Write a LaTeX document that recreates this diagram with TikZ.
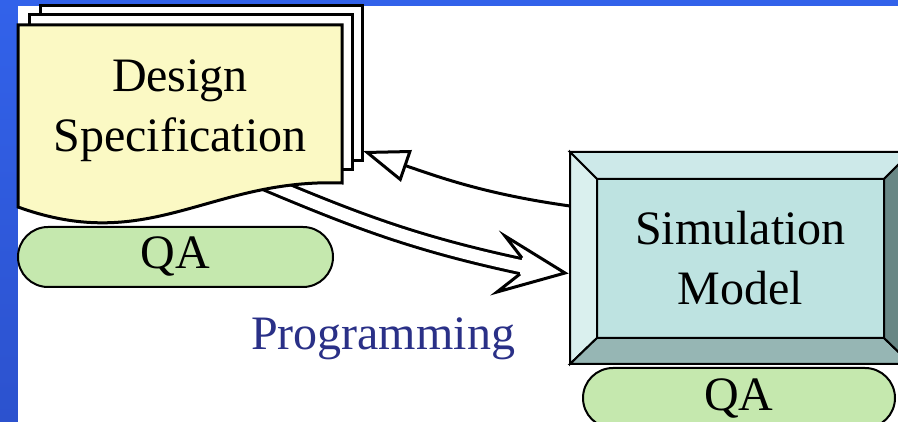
\documentclass[tikz,border=0pt]{standalone}
\usepackage{fontspec}
\setmainfont{Liberation Serif}
\newfontfamily\slidefont{Liberation Serif}
\usepackage{xcolor}
\usetikzlibrary{arrows.meta}

\definecolor{bgblue}{RGB}{50,98,234}
\definecolor{bgbluedark}{RGB}{44,82,206}
\definecolor{docyellow}{RGB}{251,249,196}
\definecolor{qagreen}{RGB}{197,232,174}
\definecolor{simface}{RGB}{190,227,225}
\definecolor{simtop}{RGB}{205,233,233}
\definecolor{simleft}{RGB}{218,240,238}
\definecolor{simbottom}{RGB}{150,182,180}
\definecolor{simright}{RGB}{104,135,133}
\definecolor{progblue}{RGB}{42,48,135}

\begin{document}
\begin{tikzpicture}[x=1pt, y=1pt,
    txt/.style={font=\slidefont\fontsize{48}{60}\selectfont, align=center, inner sep=0pt},
    qa/.style={txt, draw=black, line width=2pt, fill=qagreen, rounded corners=30pt, minimum height=60pt},
    page/.style={draw=black, line width=3pt, line join=miter, fill=white},
    bevel/.style={draw=black, line width=2pt, line join=miter}]
            \useasboundingbox (0, 0) rectangle (898, -422);
            \clip (0, 0) rectangle (898, -422);
            \shade[top color=bgblue, bottom color=bgbluedark] (0, 0) rectangle (898, -422);
            \fill[white] (18, -6) rectangle (898, -422);

            \coordinate (P0) at (250, -176);
            \coordinate (P1) at (521, -266);
            \coordinate (P2) at (565, -273);
            \draw[line width=3pt, double=white, double distance=12pt] (P0) to[out=-23, in=168] ([shift={(4,-1)}]P1);

            \draw[page] (40, -6) rectangle (362, -161);
            \draw[page] (29, -15) rectangle (352, -170);
            \draw[page, fill=docyellow] (18, -25) -- (342, -25) -- (342, -183) .. controls (210, -178) and (150, -255) .. (18, -207) -- cycle;
            \coordinate (D0) at (363, -151);
            \node[txt] (D1) at (180, -110.7) {Design\\Specification};
            \node[qa, minimum width=315pt] (Q1) at (175.5, -257) {QA};

            \node[txt, fill=simface, minimum width=287pt, minimum height=159pt, outer sep=0pt] (S1) at (740.5, -258.5) {Simulation\\Model};
            \draw[bevel, fill=simtop] ([shift={(-27,27)}]S1.north west) -- ([shift={(27,27)}]S1.north east) -- (S1.north east) -- (S1.north west) -- cycle;
            \draw[bevel, fill=simleft] ([shift={(-27,27)}]S1.north west) -- (S1.north west) -- (S1.south west) -- ([shift={(-27,-26)}]S1.south west) -- cycle;
            \draw[bevel, fill=simbottom] ([shift={(-27,-26)}]S1.south west) -- (S1.south west) -- (S1.south east) -- ([shift={(27,-26)}]S1.south east) -- cycle;
            \draw[bevel, fill=simright] ([shift={(27,27)}]S1.north east) -- ([shift={(27,-26)}]S1.south east) -- (S1.south east) -- (S1.north east) -- cycle;
            \node[qa, minimum width=312pt] (Q2) at (739, -398) {QA};

            \coordinate (S0) at (570, -206);
            \draw[line width=3pt, -{Triangle[fill=white, length=46pt, width=33pt]}] (S0) to[out=172, in=-19] (D0);

            \fill[white] (P1) ++(1,8) -- ([shift={(-60,37)}]P2) -- (P2) -- ([shift={(-68,-19)}]P2) -- ([shift={(-45,-1)}]P2) -- cycle;
            \draw[line width=3pt, line join=miter] ([shift={(-43,15)}]P2) -- ([shift={(-60,37)}]P2) -- (P2) -- ([shift={(-68,-19)}]P2) -- ([shift={(-45,-1)}]P2);

            \node[txt, text=progblue, anchor=base] (T1) at (383, -350) {Programming};
\end{tikzpicture}
\end{document}
